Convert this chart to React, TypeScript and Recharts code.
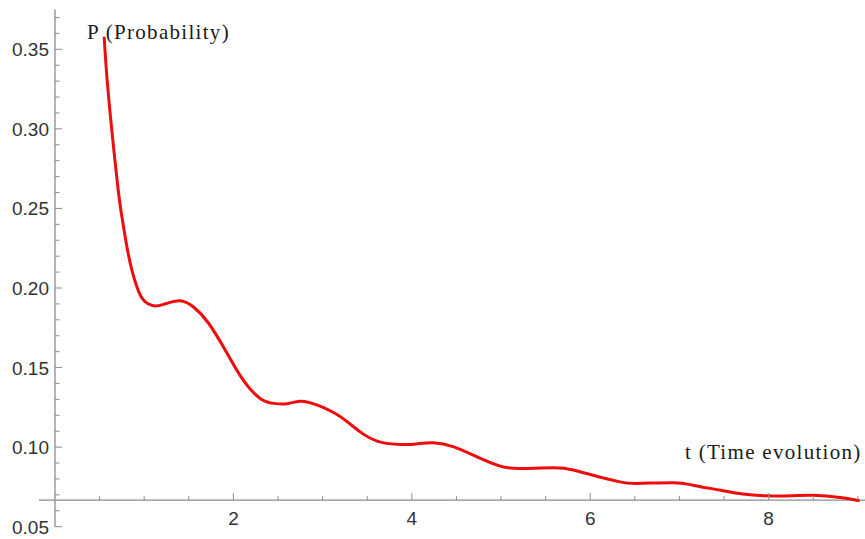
import { LineChart, Line, XAxis, YAxis, ReferenceLine } from "recharts";

// values
const tValues = [
  0.551, 0.6, 0.7, 0.75, 0.806, 0.862, 0.918, 0.992, 1.104, 1.216, 1.4, 1.55, 1.72, 1.93, 2.11,
  2.3, 2.45, 2.6, 2.75, 2.95, 3.2, 3.42, 3.64, 3.87, 4.05, 4.24, 4.47, 4.73, 4.99, 5.21, 5.59,
  5.81, 6.09, 6.33, 6.52, 6.93, 7.15, 7.45, 7.71, 7.98, 8.25, 8.5, 8.8, 9.02,
];
const pValues = [
  0.3579, 0.3205, 0.2658, 0.2448, 0.2259, 0.2113, 0.2008, 0.1924, 0.1888, 0.1897, 0.192, 0.1882,
  0.178, 0.1589, 0.1421, 0.1306, 0.1275, 0.1272, 0.1289, 0.1262, 0.1191, 0.1096, 0.1033, 0.1017,
  0.102, 0.1027, 0.1002, 0.0939, 0.0881, 0.0866, 0.087, 0.0856, 0.0814, 0.0782, 0.0772, 0.0776,
  0.0761, 0.073, 0.0705, 0.0694, 0.0694, 0.0697, 0.0684, 0.0663,
];
const xTicks = [0.5, 1, 1.5, 2, 2.5, 3, 3.5, 4, 4.5, 5, 5.5, 6, 6.5, 7, 7.5, 8, 8.5, 9];
const xMajor = [2, 4, 6, 8];
const yTicks = Array.from({ length: 33 }, (_, i) => Math.round((0.05 + i * 0.01) * 100) / 100);
const yMajor = [0.05, 0.1, 0.15, 0.2, 0.25, 0.3, 0.35];

const X_DOMAIN: [number, number] = [0, 9.08];
const Y_DOMAIN: [number, number] = [0.05, 0.375];
const AXIS_CROSS = 0.0667;

const W = 865;
const H = 539;
const X_AXIS_H = 12.3;
const MARGIN = { top: 9.5, right: 0, bottom: 0, left: 0 };
const PLOT_H = H - MARGIN.top - X_AXIS_H;
const X_AXIS_OFFSET = ((AXIS_CROSS - Y_DOMAIN[0]) / (Y_DOMAIN[1] - Y_DOMAIN[0])) * PLOT_H;

const AXIS_COLOR = "#8c8c8c";
const TICK_FONT = "'Liberation Sans', Arial, sans-serif";
const LABEL_FONT = "'Liberation Serif', 'Times New Roman', serif";

const data = tValues.map((t, i) => ({ t, p: pValues[i] }));

function XTick(props: any) {
  const { x, y, payload } = props;
  const axisY = y - X_AXIS_OFFSET;
  const major = xMajor.includes(payload.value);
  return (
    <g>
      <line x1={x} x2={x} y1={axisY} y2={axisY - (major ? 7 : 4)} stroke={AXIS_COLOR} strokeWidth={1} />
      {major && (
        <text x={x} y={axisY + 24.5} textAnchor="middle" fontSize={19} fontFamily={TICK_FONT} fill="#333">
          {payload.value}
        </text>
      )}
    </g>
  );
}

function YTick(props: any) {
  const { x, y, payload } = props;
  const major = yMajor.includes(payload.value);
  return (
    <g>
      <line x1={x} x2={x + (major ? 7 : 4.5)} y1={y} y2={y} stroke={AXIS_COLOR} strokeWidth={1} />
      {major && (
        <text x={x - 6} y={y + 7} textAnchor="end" fontSize={19} fontFamily={TICK_FONT} fill="#333">
          {payload.value.toFixed(2)}
        </text>
      )}
    </g>
  );
}

export default function App() {
  return (
    <div style={{ position: "absolute", left: 0, top: 0, width: W, height: H, background: "#fff" }}>
      <LineChart width={W} height={H} data={data} margin={MARGIN}>
        <XAxis
          dataKey="t"
          type="number"
          domain={X_DOMAIN}
          ticks={xTicks}
          height={X_AXIS_H}
          allowDataOverflow
          axisLine={false}
          tickLine={false}
          tickSize={0}
          tickMargin={0}
          tick={<XTick />}
          interval={0}
        />
        <YAxis
          type="number"
          domain={Y_DOMAIN}
          ticks={yTicks}
          width={55}
          allowDataOverflow
          axisLine={{ stroke: AXIS_COLOR, strokeWidth: 1.3 }}
          tickLine={false}
          tickSize={0}
          tickMargin={0}
          tick={<YTick />}
          interval={0}
        />
        <ReferenceLine
          segment={[
            { x: -0.18, y: AXIS_CROSS },
            { x: 9.08, y: AXIS_CROSS },
          ]}
          ifOverflow="visible"
          stroke={AXIS_COLOR}
          strokeWidth={1.3}
        />
        <Line
          type="natural"
          dataKey="p"
          stroke="#ee0d0d"
          strokeWidth={3}
          dot={false}
          isAnimationActive={false}
        />
        <text x={87} y={39} fontSize={21} letterSpacing={1.3} fontFamily={LABEL_FONT} fill="#1a1a1a">
          P (Probability)
        </text>
        <text x={685} y={459} fontSize={21} letterSpacing={1.3} fontFamily={LABEL_FONT} fill="#1a1a1a">
          t (Time evolution)
        </text>
      </LineChart>
    </div>
  );
}
